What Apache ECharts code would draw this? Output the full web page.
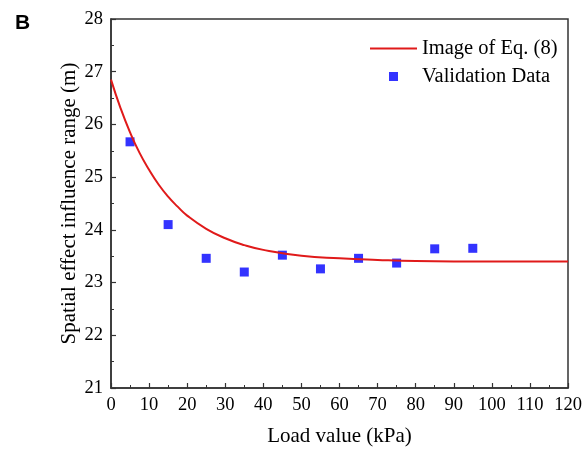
<!DOCTYPE html>
<html><head><meta charset="utf-8">
<script src="https://cdn.jsdelivr.net/npm/echarts@6/dist/echarts.min.js"></script>
<style>html,body{margin:0;padding:0;background:#fff}#c{width:584px;height:450px}</style>
</head><body><div id="c"></div>
<script>
// Validation data (load kPa, range m)
var loadValues = [5, 15, 25, 35, 45, 55, 65, 75, 85, 95];
var validationValues = [25.67, 24.10, 23.46, 23.20, 23.52, 23.26, 23.46, 23.37, 23.64, 23.65];
// Curve of Eq. (8)
var curveX = [0, 2.5, 5, 7.5, 10, 12.5, 15, 17.5, 20, 25, 30, 35, 40, 50, 60, 70, 80, 100, 120];
var curveY = [26.85, 26.31, 25.85, 25.46, 25.14, 24.86, 24.63, 24.44, 24.27, 24.02, 23.84, 23.71, 23.62, 23.51, 23.46, 23.43, 23.41, 23.40, 23.40];
var xTicks = [0, 10, 20, 30, 40, 50, 60, 70, 80, 90, 100, 110, 120];
var yTicks = [21, 22, 23, 24, 25, 26, 27, 28];

var chart = echarts.init(document.getElementById('c'));
var font = 'Liberation Serif';
chart.setOption({
  animation: false,
  backgroundColor: '#fff',
  title: {text: 'B', left: 10, top: 8, textStyle: {fontFamily: 'Liberation Sans', fontWeight: 'bold', fontSize: 21, color: '#000'}},
  grid: {left: 111, right: 16, top: 19, bottom: 62, outerBoundsMode: 'none', containLabel: false,
         show: true, borderColor: '#333', borderWidth: 1.5, backgroundColor: 'transparent'},
  legend: {
    left: 365, top: 33, orient: 'vertical', itemWidth: 47, itemHeight: 9, itemGap: 7,
    textStyle: {fontFamily: font, fontSize: 20.5, color: '#000', lineHeight: 19},
    data: [{name: 'Image of Eq. (8)', icon: 'path://M0,0H47V2H0Z'},
           {name: 'Validation Data', icon: 'path://M0,0H10V10H0Z'}]
  },
  xAxis: {
    type: 'value', min: xTicks[0], max: xTicks[xTicks.length - 1], interval: 10,
    name: 'Load value (kPa)', nameLocation: 'middle', nameGap: 38, nameMoveOverlap: false,
    nameTextStyle: {fontFamily: font, fontSize: 21, color: '#000'},
    axisLine: {show: true, lineStyle: {color: '#333', width: 1.5}},
    axisTick: {show: true, inside: true, length: 5, lineStyle: {color: '#333', width: 1.2}},
    minorTick: {show: true, splitNumber: 2, length: 3, lineStyle: {color: '#333', width: 1}},
    axisLabel: {fontFamily: font, fontSize: 18.5, color: '#000', margin: 8},
    splitLine: {show: false}
  },
  yAxis: {
    type: 'value', min: yTicks[0], max: yTicks[yTicks.length - 1], interval: 1,
    name: 'Spatial effect influence range (m)', nameLocation: 'middle', nameGap: 31, nameMoveOverlap: false,
    nameTextStyle: {fontFamily: font, fontSize: 21, color: '#000'},
    axisLine: {show: true, lineStyle: {color: '#333', width: 1.5}},
    axisTick: {show: true, inside: true, length: 5, lineStyle: {color: '#333', width: 1.2}},
    minorTick: {show: true, splitNumber: 2, length: 3, lineStyle: {color: '#333', width: 1}},
    axisLabel: {fontFamily: font, fontSize: 18.5, color: '#000', margin: 8},
    splitLine: {show: false}
  },
  series: [
    {name: 'Image of Eq. (8)', type: 'line', smooth: true, symbol: 'none',
     lineStyle: {color: '#e01a1a', width: 2}, itemStyle: {color: '#e01a1a'},
     data: curveX.map(function (x, i) { return [x, curveY[i]]; })},
    {name: 'Validation Data', type: 'scatter', symbol: 'rect', symbolSize: 9,
     itemStyle: {color: '#0000ff'},
     data: loadValues.map(function (x, i) { return [x, validationValues[i]]; })}
  ]
});
</script></body></html>
